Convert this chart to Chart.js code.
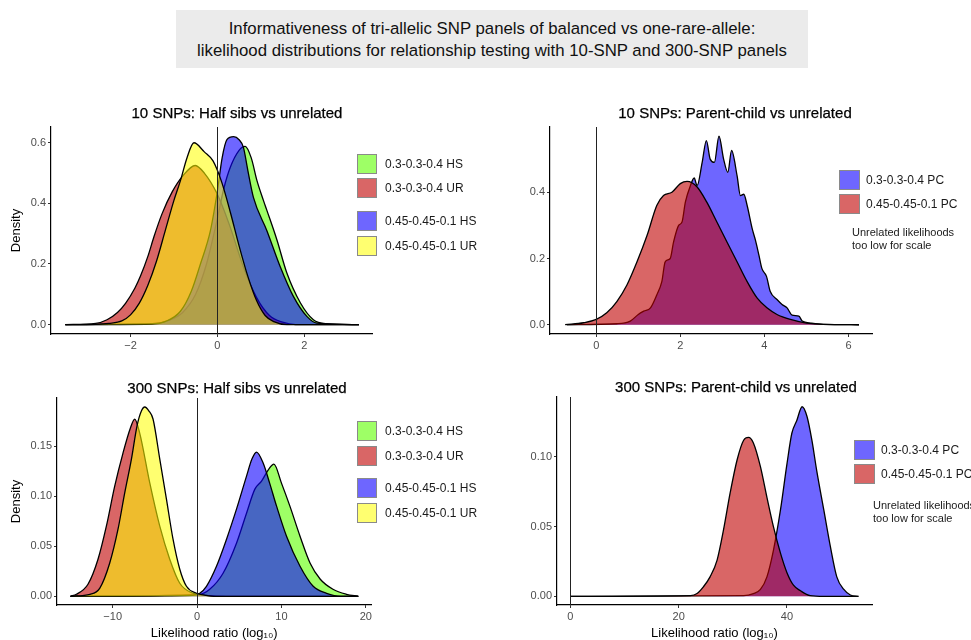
<!DOCTYPE html>
<html><head><meta charset="utf-8">
<script src="https://cdn.jsdelivr.net/npm/chart.js@4.4.1/dist/chart.umd.min.js"></script>
<style>
html,body{margin:0;padding:0;width:971px;height:640px;overflow:hidden;background:#fff;font-family:'Liberation Sans',Arial,sans-serif;}
.abs{position:absolute;}
#mainTitle{left:176px;top:10px;width:632px;height:58px;background:#ebebeb;box-sizing:border-box;padding-top:8px;text-align:center;font-size:16.8px;line-height:22px;color:#111;}
.ptitle{position:absolute;font-size:15px;color:#000;white-space:nowrap;transform:translate(-50%,-50%);-webkit-text-stroke:0.25px #000;}
.key{position:absolute;box-sizing:border-box;border:1px solid #8a8a8a;}
.ktext{position:absolute;font-size:12px;color:#1a1a1a;white-space:nowrap;transform:translateY(-50%);}
.note{position:absolute;font-size:11px;line-height:13px;color:#1a1a1a;white-space:nowrap;}
canvas{position:absolute;}
</style></head>
<body>
<div id="mainTitle" class="abs">Informativeness of tri-allelic SNP panels of balanced vs one-rare-allele:<br>likelihood distributions for relationship testing with 10-SNP and 300-SNP panels</div>
<canvas id="c1" width="374" height="239" style="left:0px;top:117px;width:374px;height:239px"></canvas>
<canvas id="c2" width="384" height="239" style="left:490px;top:117px;width:384px;height:239px"></canvas>
<canvas id="c3" width="374" height="267" style="left:0px;top:388px;width:374px;height:267px"></canvas>
<canvas id="c4" width="384" height="268" style="left:490px;top:387px;width:384px;height:268px"></canvas>
<div id="overlay"></div>
<script>
// ---------- DATA ----------
const panelTitles = ['10 SNPs: Half sibs vs unrelated','10 SNPs: Parent-child vs unrelated','300 SNPs: Half sibs vs unrelated','300 SNPs: Parent-child vs unrelated'];
const hsLabels = ['0.3-0.3-0.4 HS','0.3-0.3-0.4 UR','0.45-0.45-0.1 HS','0.45-0.45-0.1 UR'];
const pcLabels = ['0.3-0.3-0.4 PC','0.45-0.45-0.1 PC'];
const noteLines = ['Unrelated likelihoods','too low for scale'];
const xTitle = 'Likelihood ratio (log\u2081\u2080)';
const yTitle = 'Density';

// Panel 1: 10 SNPs half sibs
const p1xTicks = [-2, 0, 2];
const p1yTicks = [0, 0.2, 0.4, 0.6];
const p1GreenX = [-3.5,-1.5,-1.1,-0.8,-0.5,-0.25,0.0,0.15,0.3,0.5,0.64,0.78,0.91,1.06,1.14,1.37,1.6,1.91,2.21,2.5,3.26];
const p1GreenY = [0,0.003,0.015,0.04,0.10,0.20,0.35,0.45,0.52,0.575,0.588,0.55,0.476,0.41,0.377,0.28,0.17,0.072,0.016,0.003,0];
const p1RedX = [-3.5,-2.8,-2.54,-2.3,-2.11,-1.9,-1.77,-1.6,-1.46,-1.27,-1.04,-0.8,-0.51,-0.3,0,0.3,0.6,0.9,1.2,1.5,1.8,3.26];
const p1RedY = [0,0.004,0.016,0.04,0.071,0.12,0.16,0.225,0.29,0.367,0.438,0.49,0.525,0.50,0.43,0.32,0.19,0.09,0.03,0.008,0,0];
const p1BlueX = [-3.5,-1.5,-1.2,-0.85,-0.6,-0.39,-0.16,0.0,0.11,0.22,0.375,0.5,0.6,0.7,0.83,1.14,1.45,1.75,2.06,2.29,3.26];
const p1BlueY = [0,0.002,0.01,0.044,0.11,0.20,0.31,0.44,0.55,0.61,0.62,0.61,0.585,0.51,0.42,0.31,0.19,0.093,0.027,0.005,0];
const p1YellowX = [-3.5,-2.8,-2.5,-2.2,-2.0,-1.8,-1.6,-1.4,-1.2,-1.0,-0.85,-0.7,-0.54,-0.3,-0.1,0.1,0.3,0.5,0.7,0.9,1.1,1.3,1.6,3.26];
const p1YellowY = [0,0.001,0.004,0.012,0.032,0.07,0.13,0.21,0.31,0.41,0.475,0.55,0.60,0.57,0.54,0.47,0.37,0.26,0.16,0.08,0.03,0.01,0,0];

// Panel 2: 10 SNPs parent-child
const p2xTicks = [0, 2, 4, 6];
const p2yTicks = [0, 0.2, 0.4];
const p2BlueX = [-0.7,0.49,0.81,1.0,1.13,1.29,1.44,1.56,1.64,1.76,1.84,1.96,2.04,2.12,2.24,2.33,2.4,2.52,2.62,2.71,2.81,2.92,3.03,3.13,3.22,3.35,3.43,3.51,3.59,3.71,3.79,3.87,3.94,4.05,4.14,4.3,4.42,4.54,4.66,4.82,4.9,5.1,5.4,6.25];
const p2BlueY = [0,0.003,0.011,0.031,0.041,0.051,0.09,0.13,0.19,0.20,0.25,0.30,0.31,0.37,0.42,0.443,0.42,0.49,0.556,0.50,0.49,0.569,0.50,0.46,0.526,0.45,0.39,0.394,0.36,0.29,0.254,0.21,0.17,0.146,0.10,0.076,0.061,0.051,0.029,0.026,0.011,0.005,0.001,0];
const p2RedX = [-0.74,-0.3,0,0.25,0.49,0.73,0.97,1.21,1.44,1.6,1.8,2.0,2.16,2.4,2.63,2.87,3.11,3.35,3.59,3.83,4.06,4.3,4.62,5.0,5.4,6.25];
const p2RedY = [0,0.006,0.016,0.036,0.07,0.12,0.19,0.27,0.36,0.39,0.40,0.426,0.433,0.416,0.37,0.31,0.25,0.19,0.13,0.08,0.051,0.031,0.016,0.005,0.001,0];

// Panel 3: 300 SNPs half sibs
const p3xTicks = [-10, 0, 10, 20];
const p3yTicks = [0, 0.05, 0.10, 0.15];
const p3GreenX = [-15,0.3,1.5,3.08,4.67,5.86,6.85,7.64,8.5,9.1,10.0,11.0,12.2,13.4,14.6,16.1,17.7,19.1];
const p3GreenY = [0,0.002,0.007,0.023,0.053,0.083,0.107,0.115,0.127,0.132,0.113,0.09,0.06,0.033,0.017,0.007,0.002,0];
const p3RedX = [-15,-14.3,-12.93,-11.74,-10.75,-9.76,-8.78,-7.9,-7.39,-6.8,-5.6,-4.42,-3.24,-2.05,-0.5,1.0,3.5,19.1];
const p3RedY = [0,0.002,0.012,0.037,0.07,0.11,0.143,0.168,0.177,0.163,0.113,0.07,0.037,0.013,0.003,0.001,0,0];
const p3BlueX = [-15,-0.5,0.32,1.11,2.3,3.49,4.67,5.86,6.5,7.04,7.83,8.6,9.42,10.6,12.2,13.76,15.35,17.0,19.1];
const p3BlueY = [0,0.001,0.003,0.01,0.03,0.057,0.087,0.12,0.137,0.144,0.133,0.113,0.09,0.06,0.03,0.01,0.003,0,0];
const p3YellowX = [-15,-12.7,-11.54,-10.36,-9.37,-8.58,-7.78,-7.12,-6.6,-6.2,-5.7,-5.22,-4.42,-3.63,-2.85,-2.05,-1.26,-0.07,1.0,2.0,19.1];
const p3YellowY = [0,0.002,0.008,0.033,0.067,0.103,0.137,0.17,0.185,0.189,0.185,0.177,0.137,0.097,0.057,0.027,0.01,0.003,0.001,0,0];

// Panel 4: 300 SNPs parent-child
const p4xTicks = [0, 20, 40];
const p4yTicks = [0, 0.05, 0.10];
const p4BlueX = [0,32.0,33.8,35.1,36.3,37.5,38.8,40.0,40.9,41.8,42.8,43.7,44.6,45.5,46.8,48.0,49.2,50.5,51.7,53.2];
const p4BlueY = [0,0.0005,0.002,0.005,0.014,0.033,0.062,0.095,0.117,0.126,0.136,0.129,0.112,0.09,0.062,0.036,0.014,0.005,0.001,0];
const p4RedX = [0,22.2,23.4,24.6,25.8,27.1,28.3,29.5,30.8,32.0,32.9,33.8,35.1,36.3,37.5,38.8,40.0,41.2,42.5,44.3,46.8,53.2];
const p4RedY = [0,0.0005,0.002,0.007,0.014,0.026,0.048,0.074,0.098,0.112,0.114,0.110,0.093,0.071,0.05,0.031,0.017,0.008,0.004,0.0005,0,0];

// ---------- STYLE ----------
const FILL = {
  green: 'rgba(93,255,0,0.6)',
  red: 'rgba(192,0,0,0.6)',
  blue: 'rgba(13,0,255,0.6)',
  yellow: 'rgba(255,255,0,0.56)'
};
Chart.defaults.font.family = "'Liberation Sans', Arial, sans-serif";

const zeroLine = {
  id: 'zeroLine',
  afterDatasetsDraw(chart) {
    const {ctx, chartArea, scales} = chart;
    const px = scales.x.getPixelForValue(0);
    ctx.save();
    ctx.strokeStyle = '#222';
    ctx.lineWidth = 1;
    ctx.beginPath();
    ctx.moveTo(Math.round(px) + 0.5, chartArea.top);
    ctx.lineTo(Math.round(px) + 0.5, chartArea.bottom);
    ctx.stroke();
    ctx.restore();
  }
};

function pts(xs, ys) { return xs.map((x, i) => ({x: x, y: ys[i]})); }
function fmtX(v) { return v < 0 ? '\u2212' + Math.abs(v) : String(v); }

function makeChart(id, series, xr, yr, xt, yt, yDec, yW, xH, showXTitle, showYTitle) {
  const datasets = series.map((s, i) => ({
    data: pts(s.x, s.y),
    backgroundColor: FILL[s.c],
    borderColor: '#000',
    borderWidth: 1.3,
    fill: 'origin',
    pointRadius: 0,
    cubicInterpolationMode: 'monotone',
    order: series.length - i
  }));
  return new Chart(document.getElementById(id), {
    type: 'line',
    data: {datasets},
    plugins: [zeroLine],
    options: {
      responsive: false, animation: false, devicePixelRatio: 1,
      layout: {padding: {top: 10, right: 2, left: 0, bottom: 0}},
      plugins: {legend: {display: false}, tooltip: {enabled: false}, title: {display: false}},
      scales: {
        x: {
          type: 'linear', min: xr[0], max: xr[1],
          afterBuildTicks: s => { s.ticks = xt.map(v => ({value: v})); },
          afterFit: s => { s.height = xH; },
          ticks: {callback: v => fmtX(v), color: '#4d4d4d', font: {size: 11}, padding: 2, maxRotation: 0, autoSkip: false},
          grid: {display: true, drawOnChartArea: false, drawTicks: true, tickLength: 3, tickColor: '#333'},
          border: {display: true, color: '#000', width: 1.2},
          title: {display: showXTitle, text: xTitle, color: '#000', font: {size: 13}, padding: {top: 0, bottom: 14}}
        },
        y: {
          type: 'linear', min: yr[0], max: yr[1],
          afterBuildTicks: s => { s.ticks = yt.map(v => ({value: v})); },
          afterFit: s => { s.width = yW; },
          ticks: {callback: v => v.toFixed(yDec), color: '#4d4d4d', font: {size: 11}, padding: 2, autoSkip: false},
          grid: {display: true, drawOnChartArea: false, drawTicks: true, tickLength: 3, tickColor: '#333'},
          border: {display: true, color: '#000', width: 1.2},
          title: {display: showYTitle, text: yTitle, color: '#000', font: {size: 13}, padding: {top: 9, bottom: 0}}
        }
      }
    }
  });
}

makeChart('c1', [
  {x: p1GreenX, y: p1GreenY, c: 'green'},
  {x: p1RedX, y: p1RedY, c: 'red'},
  {x: p1BlueX, y: p1BlueY, c: 'blue'},
  {x: p1YellowX, y: p1YellowY, c: 'yellow'}
], [-3.83, 3.56], [-0.031, 0.652], p1xTicks, p1yTicks, 1, 51, 22, false, true);

makeChart('c2', [
  {x: p2BlueX, y: p2BlueY, c: 'blue'},
  {x: p2RedX, y: p2RedY, c: 'red'}
], [-1.1, 6.56], [-0.028, 0.597], p2xTicks, p2yTicks, 1, 60, 22, false, false);

makeChart('c3', [
  {x: p3GreenX, y: p3GreenY, c: 'green'},
  {x: p3RedX, y: p3RedY, c: 'red'},
  {x: p3BlueX, y: p3BlueY, c: 'blue'},
  {x: p3YellowX, y: p3YellowY, c: 'yellow'}
], [-16.6, 20.67], [-0.0087, 0.198], p3xTicks, p3yTicks, 2, 57, 50, true, true);

makeChart('c4', [
  {x: p4BlueX, y: p4BlueY, c: 'blue'},
  {x: p4RedX, y: p4RedY, c: 'red'}
], [-2.46, 55.7], [-0.0062, 0.143], p4xTicks, p4yTicks, 2, 67, 50, true, false);

// ---------- HTML titles & legends ----------
const ov = document.getElementById('overlay');
function add(cls, text, styles) {
  const d = document.createElement('div');
  d.className = cls; d.textContent = text;
  Object.assign(d.style, styles);
  ov.appendChild(d); return d;
}
const titlePos = [[237,112],[735,112],[237,387],[736,386]];
panelTitles.forEach((t, i) => add('ptitle', t, {left: titlePos[i][0] + 'px', top: titlePos[i][1] + 'px'}));

const hsColors = ['green','red','blue','yellow'];
function hsLegend(tops) {
  hsLabels.forEach((l, i) => {
    add('key', '', {left: '357px', top: tops[i] + 'px', width: '20px', height: '20px', background: FILL[hsColors[i]]});
    add('ktext', l, {left: '385px', top: (tops[i] + 10) + 'px'});
  });
}
hsLegend([154,178,211,236]);
hsLegend([421,446,478,503]);

const pcColors = ['blue','red'];
function pcLegend(kx, tx, tops, nx, ny) {
  pcLabels.forEach((l, i) => {
    add('key', '', {left: kx + 'px', top: tops[i] + 'px', width: '21px', height: '20px', background: FILL[pcColors[i]]});
    add('ktext', l, {left: tx + 'px', top: (tops[i] + 10) + 'px'});
  });
  const n = add('note', '', {left: nx + 'px', top: ny + 'px'});
  n.innerHTML = noteLines.join('<br>');
}
pcLegend(839, 866, [170,194], 852, 226);
pcLegend(854, 881, [440,464], 873, 499);
</script>
</body></html>
